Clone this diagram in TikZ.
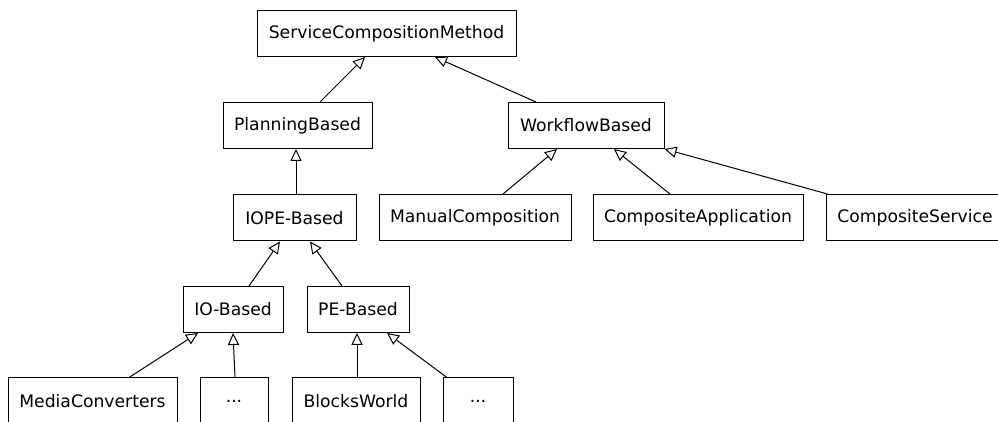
\documentclass[tikz,border=0pt]{standalone}
\usepackage{fontspec}
\setmainfont{DejaVu Sans}
\usepackage{tikz}
\usetikzlibrary{arrows.meta}

\begin{document}
\begin{tikzpicture}[x=0.5pt, y=-0.5pt,
    cls/.style={draw, line width=0.5pt, inner sep=0pt, minimum height=23pt,
                font=\fontsize{8.6}{10}\selectfont},
    gen/.style={line width=0.5pt, -{Triangle[open, length=6pt, width=5.6pt]}}]
    \useasboundingbox (0, 0) rectangle (998, 422);
    \node[cls, minimum width=129.5pt] (scm) at (386.5, 33.5) {ServiceCompositionMethod};
    \node[cls, minimum width=74.5pt] (pb) at (297.5, 125.5) {PlanningBased};
    \node[cls, minimum width=78pt] (wb) at (586, 125.5) {WorkflowBased};
    \node[cls, minimum width=61.5pt] (iope) at (294.5, 218) {IOPE-Based};
    \node[cls, minimum width=96pt] (manual) at (475, 217.5) {ManualComposition};
    \node[cls, minimum width=105pt] (capp) at (698, 217.5) {CompositeApplication};
    \node[cls, minimum width=89pt] (csrv) at (915, 217.5) {CompositeService};
    \node[cls, minimum width=50pt] (io) at (233, 309.5) {IO-Based};
    \node[cls, minimum width=51pt] (pe) at (358, 309.5) {PE-Based};
    \node[cls, minimum width=84.5pt] (media) at (92.5, 401) {MediaConverters};
    \node[cls, minimum width=34pt] (iomore) at (234, 401) {...};
    \node[cls, minimum width=64pt] (blocks) at (356, 401) {BlocksWorld};
    \node[cls, minimum width=35pt] (pemore) at (478, 401) {...};
    \draw[gen] ([xshift=11.25pt]pb.north) -- ([xshift=-10.75pt]scm.south);
    \draw[gen] ([xshift=-25pt]wb.north) -- ([xshift=24.25pt]scm.south);
    \draw[gen] ([xshift=14pt]manual.north) -- ([xshift=-14.5pt]wb.south);
    \draw[gen] ([xshift=-14pt]capp.north) -- ([xshift=14pt]wb.south);
    \draw[gen] ([xshift=1pt]csrv.north west) -- (wb.south east);
    \draw[gen] ([xshift=0.75pt]iope.north) -- ([xshift=-0.75pt]pb.south);
    \draw[gen] ([xshift=8pt]io.north) -- ([xshift=-7.25pt]iope.south);
    \draw[gen] ([xshift=-8pt]pe.north) -- ([xshift=7.75pt]iope.south);
    \draw[gen] ([xshift=18.25pt]media.north) -- ([xshift=-17.5pt]io.south);
    \draw[gen] ([xshift=0.5pt]iomore.north) -- (io.south);
    \draw[gen] ([xshift=0.5pt]blocks.north) -- ([xshift=-0.5pt]pe.south);
    \draw[gen] ([xshift=-15.5pt]pemore.north) -- ([xshift=14.5pt]pe.south);
  \end{tikzpicture}
\end{document}
